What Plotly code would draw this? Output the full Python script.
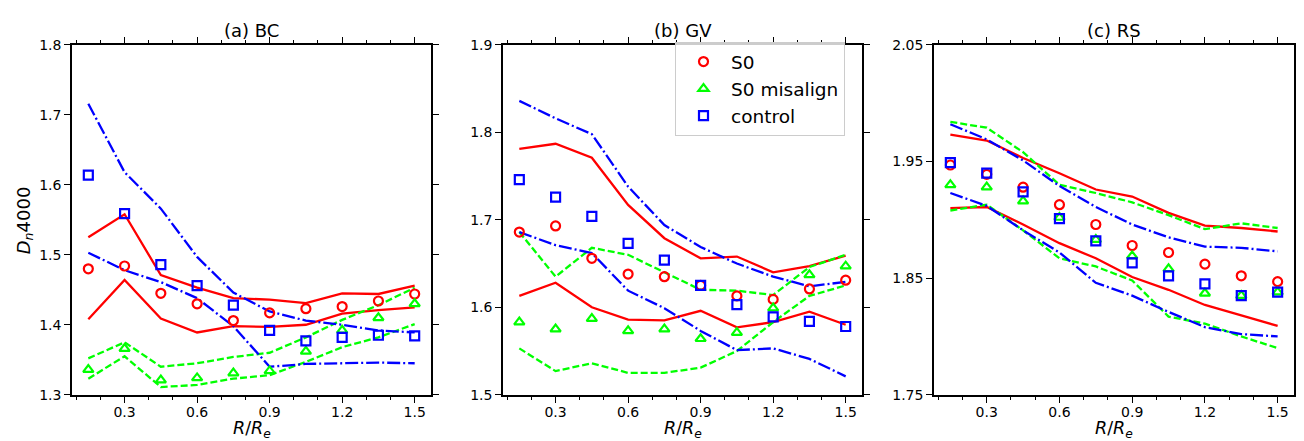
import plotly.graph_objects as go

# ---------------- data ----------------
r_bins = [0.15, 0.30, 0.45, 0.60, 0.75, 0.90, 1.05, 1.20, 1.35, 1.50]

panel_titles = ["(a) BC", "(b) GV", "(c) RS"]

# (a) BC
bc_s0 = [1.480, 1.484, 1.445, 1.430, 1.406, 1.417, 1.423, 1.426, 1.434, 1.444]
bc_mis = [1.336, 1.366, 1.321, 1.324, 1.331, 1.334, 1.362, 1.392, 1.410, 1.430]
bc_ctrl = [1.614, 1.559, 1.486, 1.456, 1.428, 1.392, 1.377, 1.382, 1.385, 1.384]
bc_s0_hi = [1.525, 1.558, 1.471, 1.453, 1.438, 1.436, 1.431, 1.445, 1.444, 1.456]
bc_s0_lo = [1.408, 1.464, 1.409, 1.389, 1.398, 1.397, 1.400, 1.416, 1.421, 1.425]
bc_mis_hi = [1.352, 1.375, 1.340, 1.345, 1.354, 1.360, 1.382, 1.407, 1.428, 1.453]
bc_mis_lo = [1.323, 1.355, 1.311, 1.314, 1.323, 1.328, 1.347, 1.368, 1.382, 1.401]
bc_ctrl_hi = [1.716, 1.618, 1.566, 1.497, 1.446, 1.419, 1.406, 1.400, 1.392, 1.389]
bc_ctrl_lo = [1.503, 1.478, 1.461, 1.438, 1.398, 1.340, 1.344, 1.345, 1.346, 1.345]

# (b) GV
gv_s0 = [1.686, 1.693, 1.656, 1.638, 1.635, 1.625, 1.613, 1.609, 1.621, 1.631]
gv_mis = [1.583, 1.575, 1.587, 1.573, 1.575, 1.564, 1.571, 1.599, 1.637, 1.647]
gv_ctrl = [1.746, 1.726, 1.704, 1.673, 1.654, 1.625, 1.603, 1.589, 1.584, 1.578]
gv_s0_hi = [1.781, 1.787, 1.771, 1.717, 1.679, 1.656, 1.658, 1.640, 1.647, 1.659]
gv_s0_lo = [1.613, 1.628, 1.600, 1.586, 1.585, 1.596, 1.577, 1.583, 1.595, 1.580]
gv_mis_hi = [1.686, 1.635, 1.668, 1.660, 1.640, 1.620, 1.619, 1.614, 1.646, 1.660]
gv_mis_lo = [1.553, 1.527, 1.536, 1.525, 1.525, 1.531, 1.550, 1.583, 1.613, 1.625]
gv_ctrl_hi = [1.836, 1.816, 1.798, 1.738, 1.694, 1.669, 1.650, 1.635, 1.624, 1.629]
gv_ctrl_lo = [1.686, 1.671, 1.662, 1.619, 1.599, 1.573, 1.551, 1.553, 1.541, 1.521]

# (c) RS
rs_s0 = [1.947, 1.939, 1.928, 1.913, 1.896, 1.878, 1.872, 1.862, 1.852, 1.847]
rs_mis = [1.930, 1.928, 1.916, 1.902, 1.883, 1.869, 1.858, 1.837, 1.835, 1.838]
rs_ctrl = [1.949, 1.940, 1.924, 1.901, 1.882, 1.863, 1.852, 1.845, 1.835, 1.838]
rs_s0_hi = [1.973, 1.968, 1.953, 1.940, 1.926, 1.920, 1.906, 1.895, 1.893, 1.890]
rs_s0_lo = [1.910, 1.911, 1.896, 1.880, 1.867, 1.851, 1.840, 1.827, 1.818, 1.809]
rs_mis_hi = [1.984, 1.979, 1.958, 1.930, 1.923, 1.915, 1.904, 1.892, 1.897, 1.893]
rs_mis_lo = [1.908, 1.913, 1.891, 1.867, 1.860, 1.848, 1.817, 1.811, 1.800, 1.790]
rs_ctrl_hi = [1.982, 1.969, 1.951, 1.929, 1.911, 1.896, 1.885, 1.877, 1.876, 1.873]
rs_ctrl_lo = [1.923, 1.912, 1.891, 1.872, 1.846, 1.835, 1.821, 1.808, 1.802, 1.800]

y_ranges = [[1.3, 1.8], [1.5, 1.9], [1.75, 2.05]]
y_tick0 = [1.3, 1.5, 1.75]
y_fmt = [".1f", ".1f", ".2f"]
x_ticks = [0.3, 0.6, 0.9, 1.2, 1.5]

panels = [
    dict(s0=bc_s0, mis=bc_mis, ctrl=bc_ctrl, s0_hi=bc_s0_hi, s0_lo=bc_s0_lo,
         mis_hi=bc_mis_hi, mis_lo=bc_mis_lo, ctrl_hi=bc_ctrl_hi, ctrl_lo=bc_ctrl_lo),
    dict(s0=gv_s0, mis=gv_mis, ctrl=gv_ctrl, s0_hi=gv_s0_hi, s0_lo=gv_s0_lo,
         mis_hi=gv_mis_hi, mis_lo=gv_mis_lo, ctrl_hi=gv_ctrl_hi, ctrl_lo=gv_ctrl_lo),
    dict(s0=rs_s0, mis=rs_mis, ctrl=rs_ctrl, s0_hi=rs_s0_hi, s0_lo=rs_s0_lo,
         mis_hi=rs_mis_hi, mis_lo=rs_mis_lo, ctrl_hi=rs_ctrl_hi, ctrl_lo=rs_ctrl_lo),
]

# ---------------- styling ----------------
W, H = 1304, 441
RED, GREEN, BLUE = "#ff0000", "#00ff00", "#0000ff"
FONT = "DejaVu Sans"
x_dom_px = [(64, 423), (495, 854), (926, 1286)]
y_dom = [(441 - 393) / H, (441 - 30) / H]
LW = 2.3
DASH = "7px,3px"
DASHDOT = "13px,3px,2px,3px"
MS = 9

fig = go.Figure()

for i, p in enumerate(panels):
    xa = "x" if i == 0 else f"x{i+1}"
    ya = "y" if i == 0 else f"y{i+1}"
    show = (i == 1)
    for key, col, dash in [("s0_hi", RED, "solid"), ("s0_lo", RED, "solid"),
                           ("mis_hi", GREEN, DASH), ("mis_lo", GREEN, DASH),
                           ("ctrl_hi", BLUE, DASHDOT), ("ctrl_lo", BLUE, DASHDOT)]:
        fig.add_trace(go.Scatter(x=r_bins, y=p[key], mode="lines",
                                 line=dict(color=col, width=LW, dash=dash),
                                 showlegend=False, xaxis=xa, yaxis=ya,
                                 hoverinfo="skip"))
    for key, col, sym, name in [("s0", RED, "circle-open", "S0"),
                                ("mis", GREEN, "triangle-up-open", "S0 misalign"),
                                ("ctrl", BLUE, "square-open", "control")]:
        fig.add_trace(go.Scatter(x=r_bins, y=p[key], mode="markers", name=name,
                                 marker=dict(color=col, symbol=sym, size=MS,
                                             line=dict(color=col, width=2.2)),
                                 showlegend=show, legendgroup=name,
                                 xaxis=xa, yaxis=ya))

layout = dict(
    width=W, height=H,
    margin=dict(l=0, r=0, t=0, b=0),
    paper_bgcolor="white", plot_bgcolor="white",
    font=dict(family=FONT, size=14, color="black"),
    legend=dict(x=667 / W, y=(441 - 27) / H, xanchor="left", yanchor="top",
                bgcolor="rgba(255,255,255,0.8)", bordercolor="#cccccc",
                borderwidth=1, font=dict(size=18.5, family=FONT),
                itemwidth=45, tracegroupgap=0, traceorder="grouped"),
    annotations=[],
)

for i in range(3):
    xk = "xaxis" if i == 0 else f"xaxis{i+1}"
    yk = "yaxis" if i == 0 else f"yaxis{i+1}"
    xa_ref = "x" if i == 0 else f"x{i+1}"
    ya_ref = "y" if i == 0 else f"y{i+1}"
    x0, x1 = x_dom_px[i]
    layout[xk] = dict(
        domain=[x0 / W, x1 / W], range=[0.0825, 1.5675], anchor=ya_ref,
        showgrid=False, zeroline=False, showline=True, linecolor="black",
        linewidth=1.6, mirror="allticks", ticks="outside", ticklen=6, tickwidth=1.3,
        tickcolor="black", tickvals=x_ticks, tickformat=".1f",
        tickfont=dict(size=14, family=FONT), ticklabelstandoff=-2,
        minor=dict(dtick=0.1, tick0=0, ticks="outside", ticklen=3, tickwidth=1.1,
                   tickcolor="black", showgrid=False),
    )
    layout[yk] = dict(
        domain=list(y_dom), range=y_ranges[i], anchor=xa_ref,
        showgrid=False, zeroline=False, showline=True, linecolor="black",
        linewidth=1.6, mirror="allticks", ticks="outside", ticklen=6, tickwidth=1.3,
        tickcolor="black", tick0=y_tick0[i], dtick=0.1, tickformat=y_fmt[i],
        tickfont=dict(size=14, family=FONT),
    )
    xc = (x0 + x1) / 2 / W
    layout["annotations"].append(dict(
        text=panel_titles[i], x=xc, y=(441 - 15) / H, xref="paper", yref="paper",
        showarrow=False, xanchor="center", yanchor="middle",
        font=dict(size=18, family=FONT)))
    layout["annotations"].append(dict(
        text="<i>R</i>/<i>R</i><sub><i>e</i></sub>", x=xc, y=0,
        xref="paper", yref="paper", showarrow=False, xanchor="center",
        yanchor="bottom", yshift=-2, font=dict(size=17.5, family=FONT)))

layout["annotations"].append(dict(
    text="<i>D</i><sub><i>n</i></sub>4000", x=17 / W, y=(441 - 212) / H,
    xref="paper", yref="paper", showarrow=False, textangle=-90,
    xanchor="center", yanchor="middle", font=dict(size=18, family=FONT)))

fig.update_layout(**layout)
fig.write_html("out.html")
